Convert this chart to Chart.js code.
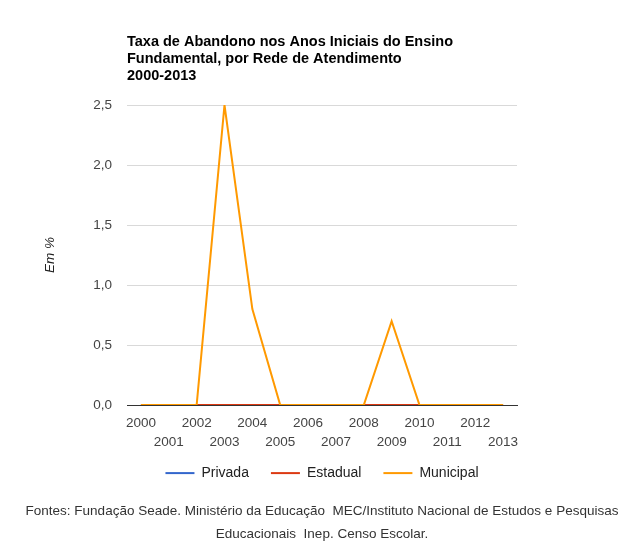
<!DOCTYPE html>
<html>
<head>
<meta charset="utf-8">
<script src="https://cdn.jsdelivr.net/npm/chart.js@4.4.0/dist/chart.umd.min.js"></script>
<style>
html,body{margin:0;padding:0;background:#fff;}
#wrap{position:relative;width:636px;height:541px;}
</style>
</head>
<body>
<div id="wrap"><canvas id="c" width="636" height="541"></canvas></div>
<script>
const years = ['2000','2001','2002','2003','2004','2005','2006','2007','2008','2009','2010','2011','2012','2013'];
const privada  = [0,0,0,0,0,0,0,0,0,0,0,0,0,0];
const estadual = [0,0,0,0,0,0,0,0,0,0,0,0,0,0];
const municipal = [0,0,0,2.5,0.8,0,0,0,0,0.7,0,0,0,0];
const yTicks = [0, 0.5, 1.0, 1.5, 2.0, 2.5];
const titleLines = ['Taxa de Abandono nos Anos Iniciais do Ensino', 'Fundamental, por Rede de Atendimento', '2000-2013'];
const footerLines = ['Fontes: Fundação Seade. Ministério da Educação  MEC/Instituto Nacional de Estudos e Pesquisas', 'Educacionais  Inep. Censo Escolar.'];

const FONT = "'Liberation Sans', Arial, sans-serif";

new Chart(document.getElementById('c'), {
  type: 'line',
  data: {
    labels: years,
    datasets: [
      {label:'Privada', data: privada, borderColor:'#3366cc', backgroundColor:'#3366cc', borderWidth:2, pointRadius:0, tension:0, order: 3},
      {label:'Estadual', data: estadual, borderColor:'#dc3912', backgroundColor:'#dc3912', borderWidth:2, pointRadius:0, tension:0, order: 2},
      {label:'Municipal', data: municipal, borderColor:'#ff9900', backgroundColor:'#ff9900', borderWidth:2, pointRadius:0, tension:0, order: 1},
      {label:'_pad', data: [], yAxisID: 'yr'}
    ]
  },
  options: {
    responsive: false,
    animation: false,
    layout: {padding: {left: 8, right: 0, top: 0, bottom: 0}},
    plugins: {
      tooltip: {enabled: false},
      title: {
        display: true, text: titleLines, align: 'start', fullSize: false,
        color: '#000', font: {family: FONT, size: 14.5, weight: 'bold', lineHeight: 1.2},
        padding: {top: 32.8, bottom: 20}
      },
      subtitle: {
        display: true, text: footerLines, position: 'bottom', align: 'center',
        color: '#333', font: {family: FONT, size: 13.5, lineHeight: 1.7},
        padding: {top: 9.5, bottom: -4.5}
      },
      legend: {
        position: 'bottom', align: 'center',
        labels: {
          boxWidth: 29, boxHeight: 2, padding: 22,
          color: '#222', font: {family: FONT, size: 14},
          generateLabels: (chart) => Chart.defaults.plugins.legend.labels.generateLabels(chart).map(it => Object.assign(it, {lineWidth: 0})),
          filter: (item) => item.text !== '_pad',
          sort: (a, b) => a.datasetIndex - b.datasetIndex
        }
      }
    },
    scales: {
      x: {
        type: 'category', offset: true,
        grid: {display: false, drawTicks: false},
        border: {display: true, color: '#333', width: 1},
        afterFit: (a) => { a.height = 39; a._computeLabelArea = () => undefined; },
        ticks: {
          autoSkip: false, maxRotation: 0, minRotation: 0, padding: 8.5,
          color: '#444', font: {family: FONT, size: 13.5, lineHeight: 1.4},
          callback: function(v, i){ const l = this.getLabelForValue(v); return i % 2 === 0 ? [l] : ['', l]; }
        }
      },
      y: {
        min: 0, max: 2.5,
        afterBuildTicks: (axis) => { axis.ticks = yTicks.map(v => ({value: v})); },
        afterFit: (a) => { a.width = 119; },
        grid: {color: '#d9d9d9', drawTicks: false},
        border: {display: false},
        title: {display: true, text: 'Em %', color: '#222', font: {family: FONT, size: 13.5, style: 'italic'}, padding: {top: 34, bottom: 0}},
        ticks: {
          padding: 15, color: '#444', font: {family: FONT, size: 13.5},
          callback: (v) => Number(v).toFixed(1).replace('.', ',')
        }
      },
      yr: {
        position: 'right', display: true, min: 0, max: 1,
        grid: {display: false, drawTicks: false},
        border: {display: false},
        ticks: {display: false},
        afterFit: (a) => { a.width = 119; }
      }
    }
  }
});
</script>
</body>
</html>
